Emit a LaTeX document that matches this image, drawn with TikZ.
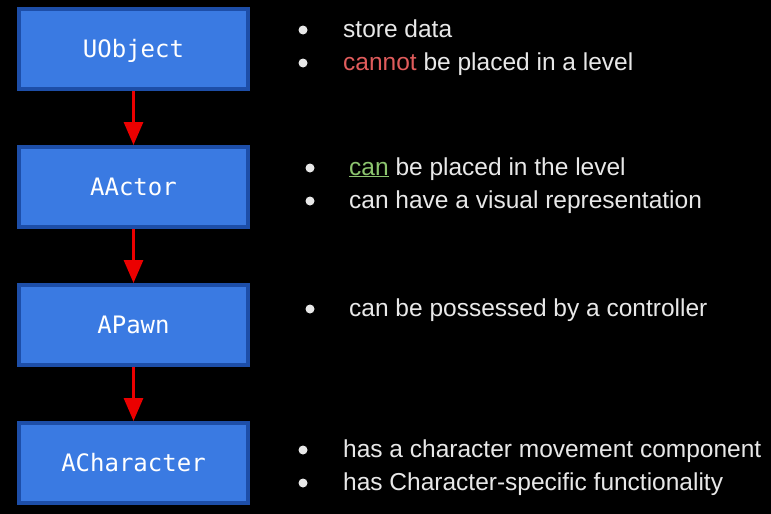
\documentclass[tikz,border=0pt]{standalone}
\usepackage{fontspec}
\setmainfont{Liberation Sans}
\newfontfamily\classfont{DejaVu Sans Mono}
\usetikzlibrary{arrows.meta, positioning}
\definecolor{classblue}{RGB}{58,122,226}
\definecolor{classedge}{RGB}{29,78,168}
\definecolor{inheritred}{RGB}{235,0,0}
\definecolor{notered}{RGB}{224,92,92}
\definecolor{notegreen}{RGB}{140,196,110}
\definecolor{notegray}{RGB}{232,232,232}

\begin{document}
\begin{tikzpicture}[
    x=1pt, y=1pt,
    >={Triangle[width=19pt, length=23pt]},
    classbox/.style={draw=classedge, line width=4pt, fill=classblue, text=white,
        minimum width=229pt, minimum height=80pt, inner sep=0pt,
        text height=17.5pt, text depth=0pt,
        font=\classfont\fontsize{24}{27}\selectfont},
    inherit/.style={->, inheritred, line width=3pt},
    item/.style={anchor=base west, text=notegray, inner sep=0pt,
        font=\fontsize{24.5}{28}\selectfont},
    dot/.style={circle, fill=notegray, inner sep=0pt, minimum size=9pt},
    node distance=54pt,
]

% === Fondo ===
\fill[black] (0,0) rectangle (771,-514);
\useasboundingbox (0,0) rectangle (771,-514);

% === Jerarquia de clases ===
\node[classbox] (uobject) at (133.5,-49) {UObject};
\node[classbox, below=of uobject] (aactor) {AActor};
\node[classbox, below=of aactor] (apawn) {APawn};
\node[classbox, below=of apawn] (acharacter) {ACharacter};

% Herencia
\draw[inherit] (uobject) -- (aactor);
\draw[inherit] (aactor) -- (apawn);
\draw[inherit] (apawn) -- (acharacter);

% === Notas UObject ===
\node[dot] (uobject-dot1) at (303,-30) {};
\node[item] (uobject-note1) at (343,-37) {store data};
\node[dot] (uobject-dot2) at (303,-63) {};
\node[item] (uobject-note2) at (343,-70) {\textcolor{notered}{cannot} be placed in a level};

% === Notas AActor ===
\node[dot] (aactor-dot1) at (310,-168) {};
\node[item] (aactor-note1) at (349,-175) {\textcolor{notegreen}{\underline{can}} be placed in the level};
\node[dot] (aactor-dot2) at (310,-201) {};
\node[item] (aactor-note2) at (349,-208) {can have a visual representation};

% === Notas APawn ===
\node[dot] (apawn-dot1) at (310,-309) {};
\node[item] (apawn-note1) at (349,-316) {can be possessed by a controller};

% === Notas ACharacter ===
\node[dot] (acharacter-dot1) at (303,-450) {};
\node[item] (acharacter-note1) at (343,-457) {has a character movement component};
\node[dot] (acharacter-dot2) at (303,-483) {};
\node[item] (acharacter-note2) at (343,-490) {has Character-specific functionality};

\end{tikzpicture}
\end{document}
